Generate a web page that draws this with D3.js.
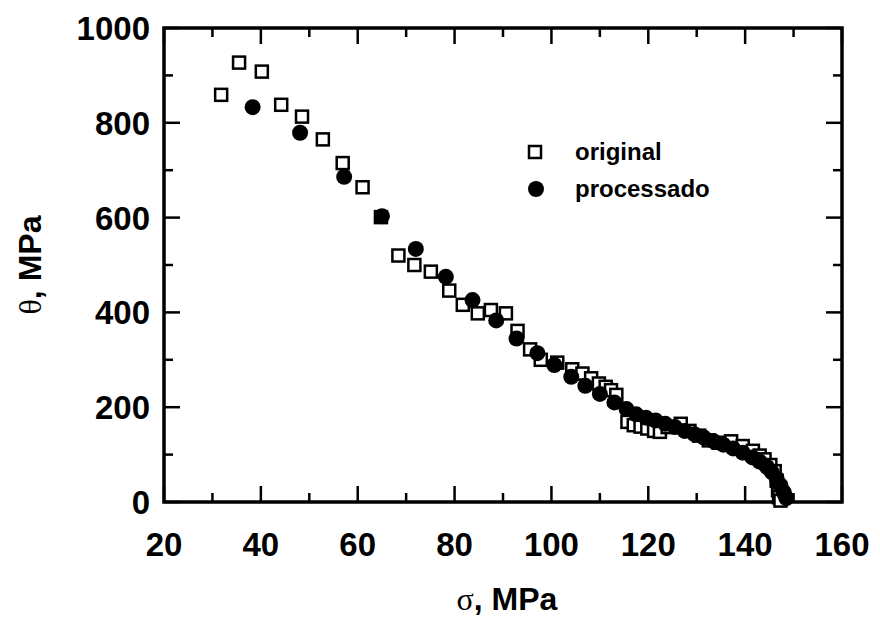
<!DOCTYPE html>
<html><head><meta charset="utf-8">
<script src="https://cdn.jsdelivr.net/npm/d3@7"></script>
<style>body{margin:0;background:#fff}</style>
</head><body>
<svg id="c" width="880" height="620"></svg>
<script>
// σ (MPa), θ (MPa)
const originalSigma = [31.8,35.5,40.2,44.2,48.5,52.8,56.9,61.0,64.8,68.4,71.7,75.1,78.9,81.7,84.8,87.5,90.6,93.0,95.6,97.8,101.2,104.3,106.4,108.2,109.8,111.2,112.3,113.4,115.7,117.0,118.4,119.8,121.2,122.4,124.0,126.7,128.5,130.5,132.5,134.5,137.1,139.5,141.6,143.0,144.0,145.2,146.1,146.5,146.8,147.0,147.3];
const originalTheta = [859,927,908,838,813,765,715,664,601,520,500,486,446,416,398,405,398,361,322,300,294,280,271,261,250,243,236,226,169,162,159,155,150,148,158,165,150,140,130,125,128,118,108,98,90,78,65,45,25,10,3];
const processSigma = [38.3,48.1,57.2,65.0,72.0,78.2,83.7,88.6,92.8,97.1,100.6,104.1,107.0,110.0,113.0,115.5,117.5,119.5,121.5,123.5,125.5,127.5,129.5,131.5,133.5,135.5,137.5,139.5,141.5,143.0,144.5,145.5,146.5,147.3,148.0,148.5];
const processTheta = [833,779,686,603,534,475,426,383,345,314,289,264,245,228,210,196,185,178,172,165,158,150,143,136,128,121,113,104,94,85,74,63,50,35,20,8];
const xTicks = [20,40,60,80,100,120,140,160];
const yTicks = [0,200,400,600,800,1000];
const legendLabels = ["original","processado"];

const svg = d3.select("#c");
const L=164, R=842, T=28, B=502;
const x = d3.scaleLinear().domain([20,160]).range([L,R]);
const y = d3.scaleLinear().domain([0,1000]).range([B,T]);
const font = "'Liberation Sans', Arial, sans-serif";

const g = svg.append("g");
const xMinor = d3.range(20,161,10), yMinor = d3.range(0,1001,100);
function tickLen(v, step){ return (v % step === 0) ? 16 : 9; }
xMinor.forEach(v=>{
  const len = tickLen(v,20);
  g.append("line").attr("x1",x(v)).attr("x2",x(v)).attr("y1",B).attr("y2",B-len).attr("stroke","#000").attr("stroke-width",2.5);
  g.append("line").attr("x1",x(v)).attr("x2",x(v)).attr("y1",T).attr("y2",T+len).attr("stroke","#000").attr("stroke-width",2.5);
});
yMinor.forEach(v=>{
  const len = tickLen(v,200);
  g.append("line").attr("y1",y(v)).attr("y2",y(v)).attr("x1",L).attr("x2",L+len).attr("stroke","#000").attr("stroke-width",2.5);
  g.append("line").attr("y1",y(v)).attr("y2",y(v)).attr("x1",R).attr("x2",R-len).attr("stroke","#000").attr("stroke-width",2.5);
});
g.append("rect").attr("x",L).attr("y",T).attr("width",R-L).attr("height",B-T)
  .attr("fill","none").attr("stroke","#000").attr("stroke-width",3.5);

xTicks.forEach(v=>{
  g.append("text").attr("x",x(v)).attr("y",B+54).attr("text-anchor","middle")
   .attr("font-family",font).attr("font-weight","bold").attr("font-size",33).text(v);
});
yTicks.forEach(v=>{
  g.append("text").attr("x",L-14).attr("y",y(v)+12).attr("text-anchor","end")
   .attr("font-family",font).attr("font-weight","bold").attr("font-size",33).text(v);
});

svg.append("text").attr("x",(L+R)/2+4).attr("y",610).attr("text-anchor","middle")
  .attr("font-family",font).attr("font-weight","bold").attr("font-size",32)
  .html("<tspan font-family=\"'Liberation Serif', serif\" font-weight='normal'>σ</tspan>, MPa");
svg.append("text").attr("transform",`translate(41,${(T+B)/2}) rotate(-90)`).attr("text-anchor","middle")
  .attr("font-family",font).attr("font-weight","bold").attr("font-size",32)
  .html("<tspan font-family=\"'Liberation Serif', serif\" font-weight='normal'>θ</tspan>, MPa");

const orig = originalSigma.map((s,i)=>({s, t: originalTheta[i]}));
const proc = processSigma.map((s,i)=>({s, t: processTheta[i]}));
const sq = 12;
svg.append("g").selectAll("rect").data(orig).join("rect")
  .attr("x",d=>x(d.s)-sq/2).attr("y",d=>y(d.t)-sq/2).attr("width",sq).attr("height",sq)
  .attr("fill","#fff").attr("stroke","#000").attr("stroke-width",2.5);
svg.append("g").selectAll("circle").data(proc).join("circle")
  .attr("cx",d=>x(d.s)).attr("cy",d=>y(d.t)).attr("r",8).attr("fill","#000");

const lg = svg.append("g");
lg.append("rect").attr("x",535-sq/2).attr("y",152-sq/2).attr("width",sq).attr("height",sq)
  .attr("fill","#fff").attr("stroke","#000").attr("stroke-width",2.5);
lg.append("circle").attr("cx",536).attr("cy",189).attr("r",8).attr("fill","#000");
lg.append("text").attr("x",575).attr("y",160).attr("font-family",font).attr("font-weight","bold").attr("font-size",24).text(legendLabels[0]);
lg.append("text").attr("x",575).attr("y",197).attr("font-family",font).attr("font-weight","bold").attr("font-size",24).text(legendLabels[1]);
</script>
</body></html>
